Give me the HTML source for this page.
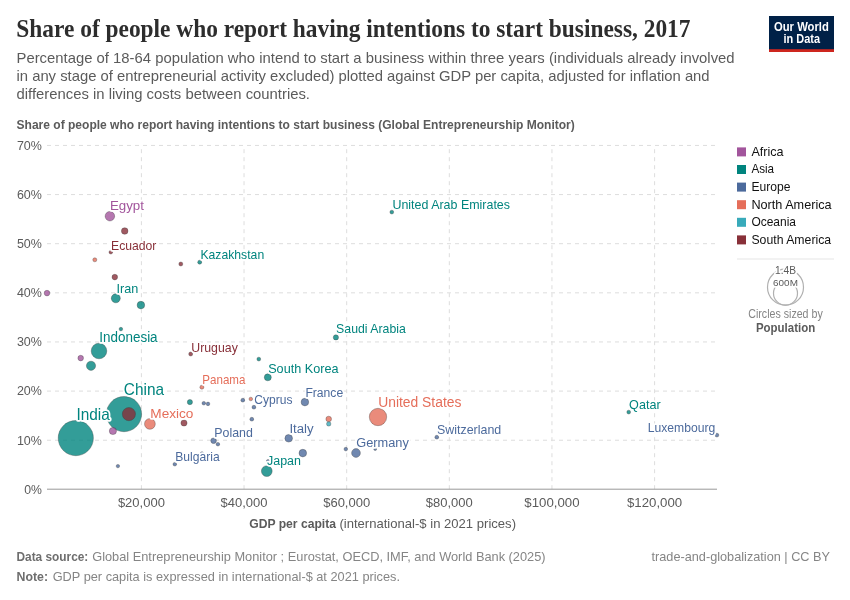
<!DOCTYPE html>
<html lang="en"><head><meta charset="utf-8"><title>Share of people who report having intentions to start business, 2017</title>
<style>html,body{margin:0;padding:0;background:#fff}body{width:850px;height:600px;overflow:hidden}svg{display:block}text{font-family:"Liberation Sans", sans-serif;}.t{font-family:"Liberation Serif",serif}.h{paint-order:stroke;stroke:#fff;stroke-width:3.5px;stroke-linejoin:round}.g line{stroke:#ddd;stroke-width:1;stroke-dasharray:4 4}.p circle{fill-opacity:.8;stroke:#333;stroke-width:.6;stroke-opacity:.55}</style></head><body>
<svg width="850" height="600" viewBox="0 0 850 600">
<rect width="850" height="600" fill="#fff"/>
<text x="16.3" y="37.3" font-size="24.8" fill="#2d2d2d" textLength="674.2" lengthAdjust="spacingAndGlyphs" font-weight="700" class="t">Share of people who report having intentions to start business, 2017</text>
<text x="16.5" y="62.7" font-size="14.94" fill="#5b5b5b" textLength="718.1" lengthAdjust="spacingAndGlyphs">Percentage of 18-64 population who intend to start a business within three years (individuals already involved</text>
<text x="16.5" y="81" font-size="14.94" fill="#5b5b5b" textLength="693.1" lengthAdjust="spacingAndGlyphs">in any stage of entrepreneurial activity excluded) plotted against GDP per capita, adjusted for inflation and</text>
<text x="16.5" y="99" font-size="14.94" fill="#5b5b5b" textLength="293.5" lengthAdjust="spacingAndGlyphs">differences in living costs between countries.</text>
<rect x="769" y="16" width="65" height="36" fill="#002147"/>
<rect x="769" y="49.2" width="65" height="2.8" fill="#ce261e"/>
<text x="774" y="30.6" font-size="11.85" fill="#fff" textLength="54.8" lengthAdjust="spacingAndGlyphs" font-weight="700">Our World</text>
<text x="783.5" y="42.6" font-size="11.85" fill="#fff" textLength="36.5" lengthAdjust="spacingAndGlyphs" font-weight="700">in Data</text>
<text x="16.5" y="128.9" font-size="12.36" fill="#5b5b5b" textLength="558.3" lengthAdjust="spacingAndGlyphs" font-weight="700">Share of people who report having intentions to start business (Global Entrepreneurship Monitor)</text>
<g class="g">
<line x1="47" y1="440.22" x2="717" y2="440.22"/>
<line x1="47" y1="391.09" x2="717" y2="391.09"/>
<line x1="47" y1="341.96" x2="717" y2="341.96"/>
<line x1="47" y1="292.83" x2="717" y2="292.83"/>
<line x1="47" y1="243.7" x2="717" y2="243.7"/>
<line x1="47" y1="194.57" x2="717" y2="194.57"/>
<line x1="47" y1="145.44" x2="717" y2="145.44"/>
<line x1="141.4" y1="489.2" x2="141.4" y2="145.3"/>
<line x1="244.04" y1="489.2" x2="244.04" y2="145.3"/>
<line x1="346.68" y1="489.2" x2="346.68" y2="145.3"/>
<line x1="449.32" y1="489.2" x2="449.32" y2="145.3"/>
<line x1="551.96" y1="489.2" x2="551.96" y2="145.3"/>
<line x1="654.6" y1="489.2" x2="654.6" y2="145.3"/>
</g>
<line x1="47" y1="489.2" x2="717" y2="489.2" stroke="#999" stroke-width="1"/>
<text x="24.2" y="493.75" font-size="13.29" fill="#5b5b5b" textLength="17.7" lengthAdjust="spacingAndGlyphs">0%</text>
<text x="16.9" y="444.62" font-size="13.29" fill="#5b5b5b" textLength="25.0" lengthAdjust="spacingAndGlyphs">10%</text>
<text x="16.9" y="395.49" font-size="13.29" fill="#5b5b5b" textLength="25.0" lengthAdjust="spacingAndGlyphs">20%</text>
<text x="16.9" y="346.36" font-size="13.29" fill="#5b5b5b" textLength="25.0" lengthAdjust="spacingAndGlyphs">30%</text>
<text x="16.9" y="297.23" font-size="13.29" fill="#5b5b5b" textLength="25.0" lengthAdjust="spacingAndGlyphs">40%</text>
<text x="16.9" y="248.1" font-size="13.29" fill="#5b5b5b" textLength="25.0" lengthAdjust="spacingAndGlyphs">50%</text>
<text x="16.9" y="198.97" font-size="13.29" fill="#5b5b5b" textLength="25.0" lengthAdjust="spacingAndGlyphs">60%</text>
<text x="16.9" y="149.84" font-size="13.29" fill="#5b5b5b" textLength="25.0" lengthAdjust="spacingAndGlyphs">70%</text>
<text x="117.9" y="507.3" font-size="13.18" fill="#5b5b5b" textLength="47.0" lengthAdjust="spacingAndGlyphs">$20,000</text>
<text x="220.54" y="507.3" font-size="13.18" fill="#5b5b5b" textLength="47.0" lengthAdjust="spacingAndGlyphs">$40,000</text>
<text x="323.18" y="507.3" font-size="13.18" fill="#5b5b5b" textLength="47.0" lengthAdjust="spacingAndGlyphs">$60,000</text>
<text x="425.82" y="507.3" font-size="13.18" fill="#5b5b5b" textLength="47.0" lengthAdjust="spacingAndGlyphs">$80,000</text>
<text x="524.36" y="507.3" font-size="13.18" fill="#5b5b5b" textLength="55.2" lengthAdjust="spacingAndGlyphs">$100,000</text>
<text x="627.0" y="507.3" font-size="13.18" fill="#5b5b5b" textLength="55.2" lengthAdjust="spacingAndGlyphs">$120,000</text>
<text x="249.2" y="528.2" font-size="12.36" fill="#5b5b5b" textLength="86.8" lengthAdjust="spacingAndGlyphs" font-weight="700">GDP per capita</text>
<text x="339.4" y="528.2" font-size="12.36" fill="#5b5b5b" textLength="176.6" lengthAdjust="spacingAndGlyphs">(international-$ in 2021 prices)</text>
<g class="p">
<circle cx="75.8" cy="438.1" r="17.6" fill="#00847e"/>
<circle cx="124" cy="414.1" r="17.6" fill="#00847e"/>
<circle cx="378" cy="417.0" r="8.7" fill="#e56e5a"/>
<circle cx="99" cy="351.0" r="7.8" fill="#00847e"/>
<circle cx="128.9" cy="414.1" r="6.6" fill="#883039"/>
<circle cx="149.9" cy="423.9" r="5.4" fill="#e56e5a"/>
<circle cx="266.8" cy="471.1" r="5.4" fill="#00847e"/>
<circle cx="109.9" cy="216.2" r="4.75" fill="#a2559c"/>
<circle cx="115.8" cy="298.3" r="4.5" fill="#00847e"/>
<circle cx="91" cy="365.8" r="4.6" fill="#00847e"/>
<circle cx="356" cy="453.0" r="4.4" fill="#4c6a9c"/>
<circle cx="140.9" cy="305.1" r="3.8" fill="#00847e"/>
<circle cx="304.9" cy="402.1" r="3.8" fill="#4c6a9c"/>
<circle cx="288.7" cy="438.3" r="3.8" fill="#4c6a9c"/>
<circle cx="302.8" cy="453.1" r="3.8" fill="#4c6a9c"/>
<circle cx="112.9" cy="431.0" r="3.6" fill="#a2559c"/>
<circle cx="267.8" cy="377.3" r="3.5" fill="#00847e"/>
<circle cx="124.7" cy="231.0" r="3.3" fill="#883039"/>
<circle cx="184" cy="423.0" r="3.1" fill="#883039"/>
<circle cx="114.8" cy="277.1" r="2.8" fill="#883039"/>
<circle cx="47" cy="293.1" r="2.8" fill="#a2559c"/>
<circle cx="80.7" cy="358.1" r="2.8" fill="#a2559c"/>
<circle cx="328.7" cy="419.0" r="2.8" fill="#e56e5a"/>
<circle cx="213.6" cy="440.7" r="2.8" fill="#4c6a9c"/>
<circle cx="189.9" cy="402.1" r="2.6" fill="#00847e"/>
<circle cx="335.9" cy="337.4" r="2.6" fill="#00847e"/>
<circle cx="328.7" cy="423.9" r="2.2" fill="#38aaba"/>
<circle cx="94.8" cy="259.8" r="2.0" fill="#e56e5a"/>
<circle cx="180.8" cy="264.0" r="2.0" fill="#883039"/>
<circle cx="199.7" cy="262.2" r="2.0" fill="#00847e"/>
<circle cx="190.7" cy="354.0" r="2.0" fill="#883039"/>
<circle cx="201.9" cy="387.2" r="2.0" fill="#e56e5a"/>
<circle cx="110.8" cy="252.2" r="1.8" fill="#883039"/>
<circle cx="120.9" cy="329.1" r="1.8" fill="#00847e"/>
<circle cx="258.8" cy="359.1" r="1.9" fill="#00847e"/>
<circle cx="203.8" cy="403.2" r="1.8" fill="#4c6a9c"/>
<circle cx="208" cy="403.9" r="1.8" fill="#4c6a9c"/>
<circle cx="242.8" cy="400.2" r="1.9" fill="#4c6a9c"/>
<circle cx="250.8" cy="399.0" r="1.8" fill="#e56e5a"/>
<circle cx="253.9" cy="407.2" r="1.9" fill="#4c6a9c"/>
<circle cx="251.8" cy="419.2" r="1.9" fill="#4c6a9c"/>
<circle cx="217.9" cy="444.2" r="1.8" fill="#4c6a9c"/>
<circle cx="345.8" cy="449.1" r="1.8" fill="#4c6a9c"/>
<circle cx="375.2" cy="449.2" r="1.3" fill="#4c6a9c"/>
<circle cx="436.8" cy="437.2" r="1.9" fill="#4c6a9c"/>
<circle cx="117.9" cy="466.1" r="1.7" fill="#4c6a9c"/>
<circle cx="174.8" cy="464.2" r="1.8" fill="#4c6a9c"/>
<circle cx="391.8" cy="212.1" r="1.9" fill="#00847e"/>
<circle cx="628.7" cy="412.1" r="1.9" fill="#00847e"/>
<circle cx="716.9" cy="435.1" r="1.9" fill="#4c6a9c"/>
<circle cx="202" cy="453.3" r="1.6" fill="#4c6a9c"/>
<circle cx="268" cy="461.1" r="1.6" fill="#4c6a9c"/>
</g>
<text x="109.9" y="209.6" font-size="13.7" fill="#a2559c" textLength="34.1" lengthAdjust="spacingAndGlyphs" class="h">Egypt</text>
<text x="111.0" y="249.5" font-size="12.36" fill="#883039" textLength="45.4" lengthAdjust="spacingAndGlyphs" class="h">Ecuador</text>
<text x="200.4" y="258.8" font-size="12.36" fill="#00847e" textLength="63.8" lengthAdjust="spacingAndGlyphs" class="h">Kazakhstan</text>
<text x="392.4" y="209.0" font-size="12.36" fill="#00847e" textLength="117.6" lengthAdjust="spacingAndGlyphs" class="h">United Arab Emirates</text>
<text x="116.5" y="292.7" font-size="12.36" fill="#00847e" textLength="21.8" lengthAdjust="spacingAndGlyphs" class="h">Iran</text>
<text x="99.3" y="342.1" font-size="14.42" fill="#00847e" textLength="58.3" lengthAdjust="spacingAndGlyphs" class="h">Indonesia</text>
<text x="191.3" y="351.5" font-size="12.36" fill="#883039" textLength="46.5" lengthAdjust="spacingAndGlyphs" class="h">Uruguay</text>
<text x="336.1" y="332.9" font-size="12.36" fill="#00847e" textLength="69.7" lengthAdjust="spacingAndGlyphs" class="h">Saudi Arabia</text>
<text x="268.2" y="372.7" font-size="13.39" fill="#00847e" textLength="70.3" lengthAdjust="spacingAndGlyphs" class="h">South Korea</text>
<text x="202.3" y="383.9" font-size="12.36" fill="#e56e5a" textLength="43.1" lengthAdjust="spacingAndGlyphs" class="h">Panama</text>
<text x="123.8" y="394.9" font-size="15.96" fill="#00847e" textLength="40.2" lengthAdjust="spacingAndGlyphs" class="h">China</text>
<text x="76.4" y="419.5" font-size="15.66" fill="#00847e" textLength="33.4" lengthAdjust="spacingAndGlyphs" class="h">India</text>
<text x="150.3" y="417.8" font-size="13.39" fill="#e56e5a" textLength="43.1" lengthAdjust="spacingAndGlyphs" class="h">Mexico</text>
<text x="254.3" y="404.2" font-size="12.36" fill="#4c6a9c" textLength="38.1" lengthAdjust="spacingAndGlyphs" class="h">Cyprus</text>
<text x="305.4" y="397.3" font-size="12.88" fill="#4c6a9c" textLength="37.8" lengthAdjust="spacingAndGlyphs" class="h">France</text>
<text x="378.2" y="406.7" font-size="14.42" fill="#e56e5a" textLength="83.2" lengthAdjust="spacingAndGlyphs" class="h">United States</text>
<text x="214.3" y="436.7" font-size="12.36" fill="#4c6a9c" textLength="38.5" lengthAdjust="spacingAndGlyphs" class="h">Poland</text>
<text x="289.4" y="433.2" font-size="12.88" fill="#4c6a9c" textLength="24.2" lengthAdjust="spacingAndGlyphs" class="h">Italy</text>
<text x="356.2" y="446.9" font-size="12.88" fill="#4c6a9c" textLength="52.6" lengthAdjust="spacingAndGlyphs" class="h">Germany</text>
<text x="437.0" y="433.9" font-size="12.36" fill="#4c6a9c" textLength="64.2" lengthAdjust="spacingAndGlyphs" class="h">Switzerland</text>
<text x="175.3" y="461.1" font-size="12.36" fill="#4c6a9c" textLength="44.4" lengthAdjust="spacingAndGlyphs" class="h">Bulgaria</text>
<text x="267.0" y="464.5" font-size="12.88" fill="#00847e" textLength="33.9" lengthAdjust="spacingAndGlyphs" class="h">Japan</text>
<text x="629.1" y="409.0" font-size="12.36" fill="#00847e" textLength="31.5" lengthAdjust="spacingAndGlyphs" class="h">Qatar</text>
<text x="647.7" y="432.1" font-size="12.36" fill="#4c6a9c" textLength="67.5" lengthAdjust="spacingAndGlyphs" class="h">Luxembourg</text>
<rect x="737" y="147.4" width="9" height="9" fill="#a2559c"/>
<text x="751.4" y="155.8" font-size="12.36" fill="#111" textLength="32.2" lengthAdjust="spacingAndGlyphs">Africa</text>
<rect x="737" y="165.0" width="9" height="9" fill="#00847e"/>
<text x="751.4" y="173.4" font-size="12.36" fill="#111" textLength="22.7" lengthAdjust="spacingAndGlyphs">Asia</text>
<rect x="737" y="182.6" width="9" height="9" fill="#4c6a9c"/>
<text x="751.4" y="191.0" font-size="12.36" fill="#111" textLength="39.0" lengthAdjust="spacingAndGlyphs">Europe</text>
<rect x="737" y="200.2" width="9" height="9" fill="#e56e5a"/>
<text x="751.4" y="208.6" font-size="12.36" fill="#111" textLength="80.2" lengthAdjust="spacingAndGlyphs">North America</text>
<rect x="737" y="217.8" width="9" height="9" fill="#38aaba"/>
<text x="751.4" y="226.2" font-size="12.36" fill="#111" textLength="44.6" lengthAdjust="spacingAndGlyphs">Oceania</text>
<rect x="737" y="235.4" width="9" height="9" fill="#883039"/>
<text x="751.4" y="243.8" font-size="12.36" fill="#111" textLength="79.8" lengthAdjust="spacingAndGlyphs">South America</text>
<line x1="737" y1="259" x2="834" y2="259" stroke="#eee" stroke-width="1.5"/>
<circle cx="785.5" cy="287.2" r="18" fill="none" stroke="#b0b0b0" stroke-width="1.2"/>
<circle cx="785.5" cy="293.2" r="12" fill="none" stroke="#b0b0b0" stroke-width="1.2"/>
<text x="775" y="274" font-size="10.81" fill="#5b5b5b" textLength="21" lengthAdjust="spacingAndGlyphs" class="h">1.4B</text>
<text x="773.1" y="285.8" font-size="9.68" fill="#5b5b5b" textLength="24.8" lengthAdjust="spacingAndGlyphs" class="h">600M</text>
<text x="748.3" y="317.5" font-size="11.85" fill="#858585" textLength="74.4" lengthAdjust="spacingAndGlyphs">Circles sized by</text>
<text x="755.9" y="331.7" font-size="11.85" fill="#5b5b5b" textLength="59.3" lengthAdjust="spacingAndGlyphs" font-weight="700">Population</text>
<text x="16.5" y="560.6" font-size="12.36" fill="#6e6e6e" textLength="71.8" lengthAdjust="spacingAndGlyphs" font-weight="700">Data source:</text>
<text x="92.2" y="560.6" font-size="12.36" fill="#858585" textLength="453.4" lengthAdjust="spacingAndGlyphs">Global Entrepreneurship Monitor ; Eurostat, OECD, IMF, and World Bank (2025)</text>
<text x="16.5" y="581" font-size="12.36" fill="#6e6e6e" textLength="31.5" lengthAdjust="spacingAndGlyphs" font-weight="700">Note:</text>
<text x="52.7" y="581" font-size="12.36" fill="#858585" textLength="347.3" lengthAdjust="spacingAndGlyphs">GDP per capita is expressed in international-$ at 2021 prices.</text>
<text x="651.5" y="560.6" font-size="12.36" fill="#858585" textLength="178.5" lengthAdjust="spacingAndGlyphs">trade-and-globalization | CC BY</text>
</svg></body></html>
